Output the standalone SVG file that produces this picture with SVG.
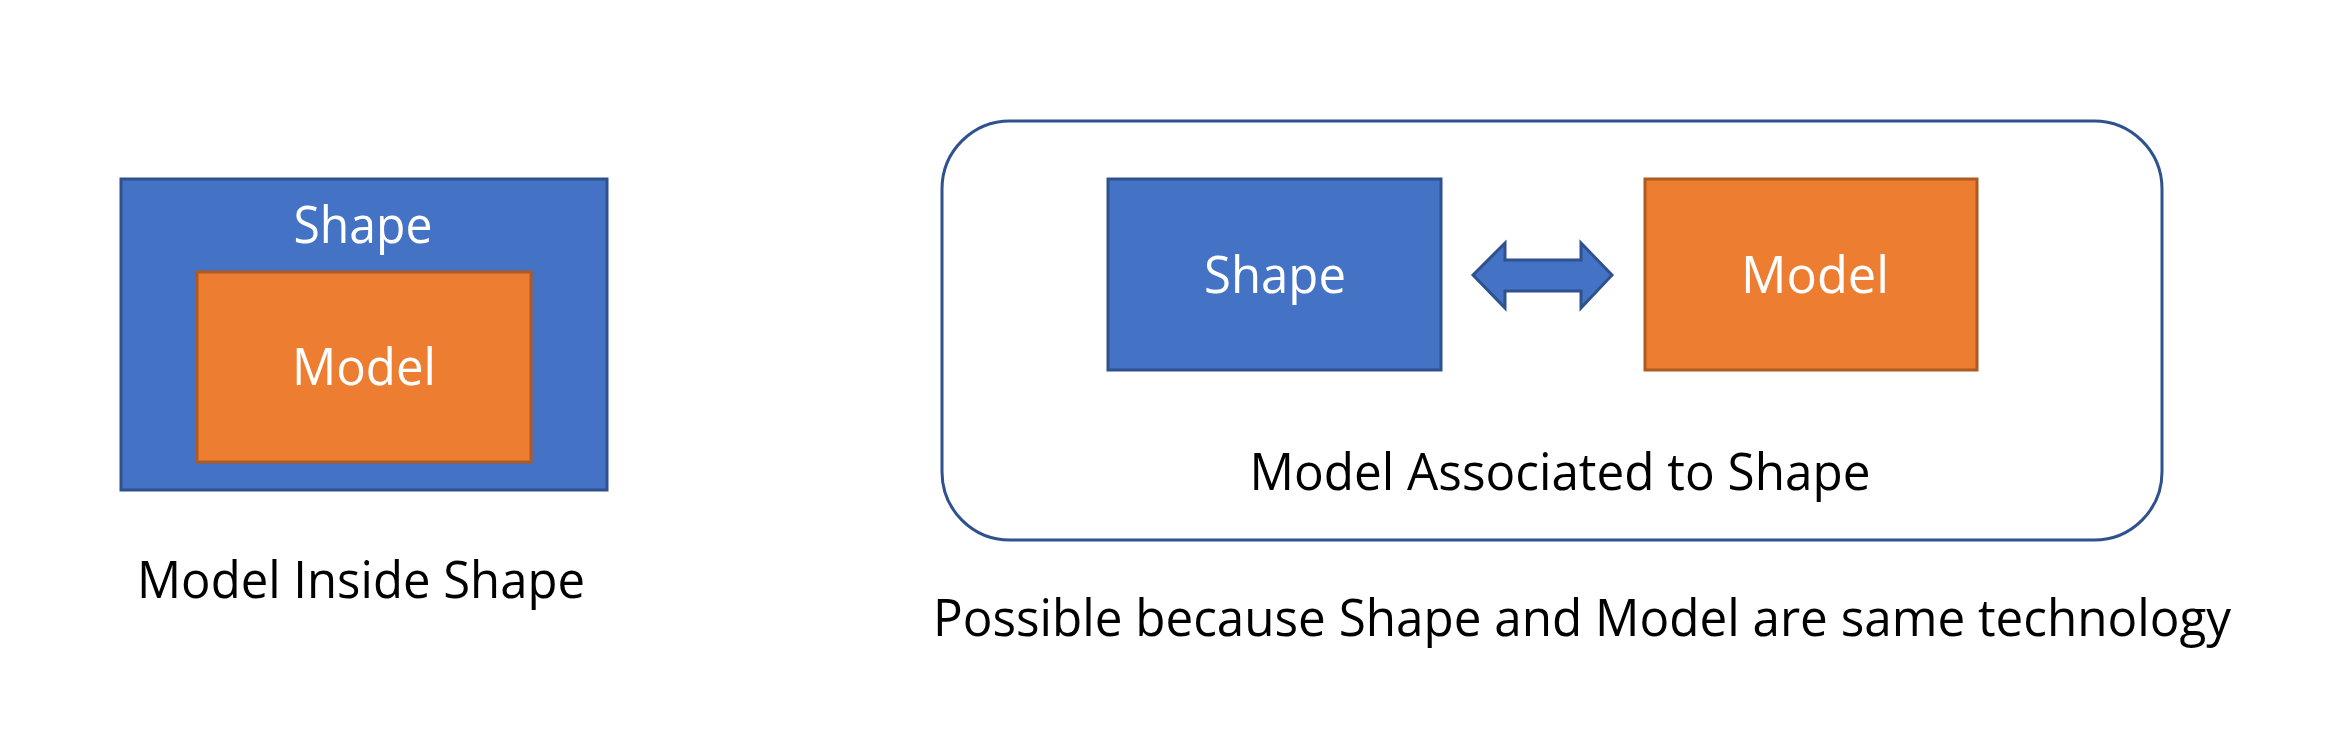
<svg xmlns="http://www.w3.org/2000/svg" width="2337" height="733" viewBox="0 0 2337 733">
<style>
.blue{fill:#4472C4;stroke:#2F528F;stroke-width:3}
.orange{fill:#ED7D31;stroke:#AE5A21;stroke-width:3}
.frame{fill:#FFFFFF;stroke:#2F528F;stroke-width:3}
.wt{font-family:"Open Sans","Noto Sans",sans-serif;font-size:52px;fill:#FFFFFF;text-anchor:middle}
.bt{font-family:"Open Sans","Noto Sans",sans-serif;font-size:52px;fill:#000000;text-anchor:middle}
</style>
<rect width="2337" height="733" fill="#FFFFFF"/>
<g id="left-shape">
<rect class="blue" x="121" y="179" width="486" height="311"/>
<text class="wt" x="363" y="243" textLength="139" lengthAdjust="spacingAndGlyphs">Shape</text>
</g>
<g id="left-model">
<rect class="orange" x="197" y="272" width="334" height="190"/>
<text class="wt" x="364" y="385" textLength="144" lengthAdjust="spacingAndGlyphs">Model</text>
</g>
<g id="left-caption">
<text class="bt" x="361" y="598" textLength="448" lengthAdjust="spacingAndGlyphs">Model Inside Shape</text>
</g>
<g id="frame">
<rect class="frame" x="942" y="121" width="1220" height="419" rx="68" ry="68"/>
<text class="bt" x="1560" y="490" textLength="621" lengthAdjust="spacingAndGlyphs">Model Associated to Shape</text>
</g>
<g id="right-shape">
<rect class="blue" x="1108" y="179" width="333" height="191"/>
<text class="wt" x="1275" y="293" textLength="142" lengthAdjust="spacingAndGlyphs">Shape</text>
</g>
<g id="right-model">
<rect class="orange" x="1645" y="179" width="332" height="191"/>
<text class="wt" x="1815" y="293" textLength="148" lengthAdjust="spacingAndGlyphs">Model</text>
</g>
<g id="connectors">
<polygon class="blue" points="1473,275 1505,243 1505,260 1581,260 1581,243 1612,275 1581,308 1581,291 1505,291 1505,308"/>
</g>
<g id="bottom-caption">
<text class="bt" x="1582" y="636" textLength="1298" lengthAdjust="spacingAndGlyphs">Possible because Shape and Model are same technology</text>
</g>
</svg>
